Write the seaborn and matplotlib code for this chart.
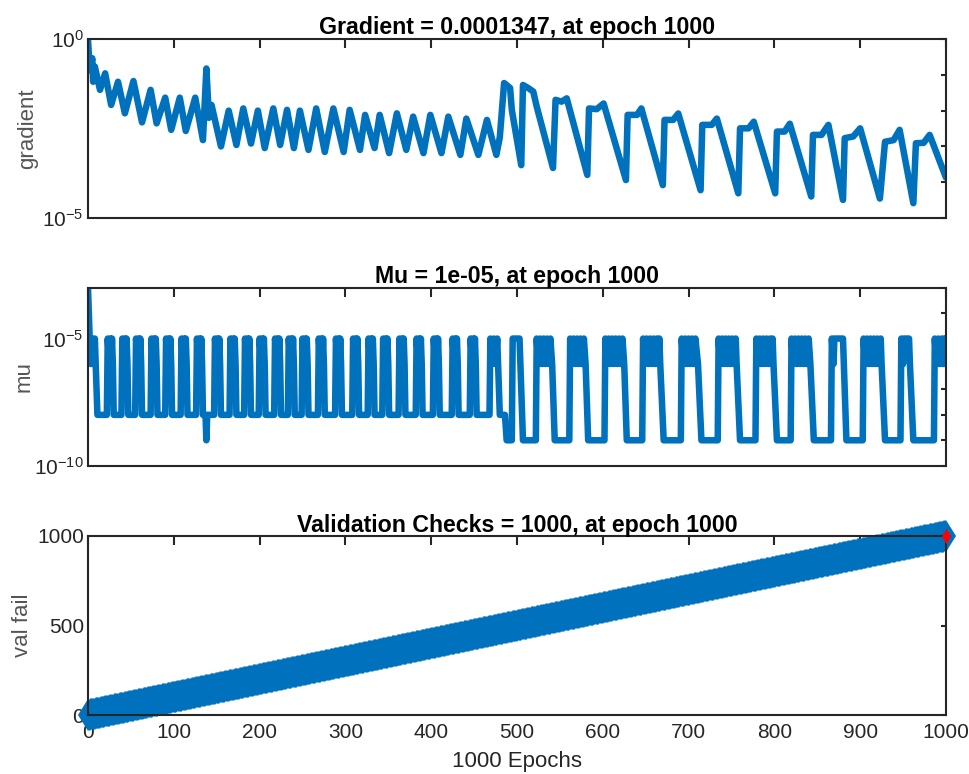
import matplotlib
matplotlib.use("Agg")
import matplotlib.pyplot as plt
import seaborn as sns
from matplotlib.ticker import FixedLocator, FixedFormatter, NullLocator

BLUE = "#0072BD"

# gradient (epoch, value at each corner of the line)
grad_epoch = [
    0, 2, 5, 6, 8, 14, 20, 27, 35, 43, 53, 63, 73, 80, 90, 97, 107, 114, 125, 134,
    138, 141, 144, 155, 164, 173, 181, 190, 198, 206, 216, 224, 232, 240, 247, 257,
    266, 276, 286, 298, 305, 317, 323, 334, 340, 351, 360, 371, 379, 391, 399, 412,
    420, 434, 441, 455, 465, 476, 480, 485, 492, 494, 505, 507, 513, 519, 523, 542,
    545, 552, 558, 582, 584, 593, 601, 627, 629, 640, 645, 670, 672, 682, 688, 714,
    716, 727, 733, 758, 760, 770, 776, 801, 803, 812, 818, 843, 845, 855, 863, 880,
    882, 892, 900, 923, 929, 939, 946, 962, 965, 974, 981, 1000,
]
grad_value = [
    1.0, 0.135, 0.29, 0.064, 0.17, 0.038, 0.11, 0.0144, 0.064, 0.0084, 0.067, 0.0047,
    0.038, 0.0044, 0.023, 0.0029, 0.023, 0.0027, 0.023, 0.0015,
    0.15, 0.0063, 0.0144, 0.001, 0.01, 0.0011, 0.0115, 0.0012, 0.01, 0.0009, 0.0115,
    0.0011, 0.0105, 0.0009, 0.01, 0.0008,
    0.0115, 0.0007, 0.0115, 0.0007, 0.0105, 0.0008, 0.0076, 0.0009, 0.0076, 0.00065,
    0.0084, 0.0008, 0.0068, 0.00065, 0.0076, 0.00065,
    0.0068, 0.00058, 0.006, 0.00058, 0.0055, 0.00058, 0.0018, 0.059, 0.043, 0.0105,
    0.0003, 0.052, 0.043, 0.034, 0.013, 0.00025,
    0.02, 0.0178, 0.022, 0.00016, 0.0115, 0.011, 0.0158, 0.000115, 0.0076, 0.0076,
    0.0115, 8.3e-5, 0.0055, 0.0055, 0.0083, 6.0e-5,
    0.004, 0.004, 0.006, 4.9e-5, 0.0032, 0.0032, 0.0049, 4.9e-5, 0.0026, 0.0026,
    0.0043, 4.0e-5, 0.0021, 0.0021, 0.004, 3.2e-5,
    0.0017, 0.0019, 0.0032, 3.5e-5, 0.00135, 0.0015, 0.0029, 2.6e-5, 0.00123, 0.00126,
    0.0021, 0.0001347,
]

# mu, as powers of ten at each corner of the line
mu_epoch = [
    0, 2, 3, 5, 6, 8, 9, 11,
    22, 23, 25, 26, 27, 28, 29, 30,
    39, 40, 42, 43, 44, 45, 46, 47,
    55, 56, 58, 59, 60, 61, 62, 63,
    73, 74, 76, 77, 78, 79, 80, 81,
    90, 91, 93, 94, 95, 96, 97, 98,
    108, 109, 111, 112, 113, 114, 115, 116,
    126, 127, 129, 130, 131, 132, 133, 134,
    137, 138, 139,
    147, 148, 150, 151, 152, 153, 154, 155,
    165, 166, 168, 169, 170, 171, 172, 173,
    182, 183, 185, 186, 187, 188, 189, 190,
    199, 200, 202, 203, 204, 205, 206, 207,
    217, 218, 220, 221, 222, 223, 224, 225,
    233, 234, 236, 237, 238, 239, 240, 241,
    249, 250, 252, 253, 254, 255, 256, 257,
    268, 269, 271, 272, 273, 274, 275, 276,
    288, 289, 291, 292, 293, 294, 295, 296,
    308, 309, 311, 312, 313, 314, 315, 316,
    326, 327, 329, 330, 331, 332, 333, 334,
    343, 344, 346, 347, 348, 349, 350, 351,
    362, 363, 365, 366, 367, 368, 369, 370,
    382, 383, 385, 386, 387, 388, 389, 390,
    402, 403, 405, 406, 407, 408, 409, 410,
    424, 425, 427, 428, 429, 430, 431, 432,
    445, 446, 448, 449, 450, 451, 452, 453,
    468, 469, 471, 473, 475, 477, 478, 480,
    486, 488, 494,
    495, 503, 504, 507,
    522, 523, 525, 527, 529, 531, 533, 535, 537, 539, 541, 544,
    561, 562, 564, 566, 568, 570, 572, 574, 576, 578, 580, 583,
    602, 603, 605, 607, 609, 611, 613, 615, 617, 619, 621, 623, 625, 628,
    646, 647, 649, 651, 653, 655, 657, 659, 661, 663, 665, 666, 667, 671,
    691, 692, 694, 696, 698, 700, 702, 704, 706, 708, 711, 715,
    734, 735, 737, 739, 741, 743, 745, 747, 749, 751, 753, 755, 756, 760,
    778, 779, 781, 783, 785, 787, 789, 791, 793, 795, 797, 798, 799, 803,
    819, 820, 822, 824, 826, 828, 830, 832, 834, 836, 838, 840, 842, 846,
    866, 867, 869, 870, 880, 881, 884,
    903, 904, 906, 908, 910, 912, 914, 916, 918, 920, 922, 924, 925, 929,
    947, 948, 950, 951, 957, 958, 962,
    986, 987, 989, 991, 993, 995, 997, 998, 999, 1000,
]
mu_exp = [
    -3, -5, -6, -5, -6, -5, -6, -8,
    -8, -5, -6, -5, -6, -5, -6, -8,
    -8, -5, -6, -5, -6, -5, -6, -8,
    -8, -5, -6, -5, -6, -5, -6, -8,
    -8, -5, -6, -5, -6, -5, -6, -8,
    -8, -5, -6, -5, -6, -5, -6, -8,
    -8, -5, -6, -5, -6, -5, -6, -8,
    -8, -5, -6, -5, -6, -5, -6, -8,
    -8, -9, -8,
    -8, -5, -6, -5, -6, -5, -6, -8,
    -8, -5, -6, -5, -6, -5, -6, -8,
    -8, -5, -6, -5, -6, -5, -6, -8,
    -8, -5, -6, -5, -6, -5, -6, -8,
    -8, -5, -6, -5, -6, -5, -6, -8,
    -8, -5, -6, -5, -6, -5, -6, -8,
    -8, -5, -6, -5, -6, -5, -6, -8,
    -8, -5, -6, -5, -6, -5, -6, -8,
    -8, -5, -6, -5, -6, -5, -6, -8,
    -8, -5, -6, -5, -6, -5, -6, -8,
    -8, -5, -6, -5, -6, -5, -6, -8,
    -8, -5, -6, -5, -6, -5, -6, -8,
    -8, -5, -6, -5, -6, -5, -6, -8,
    -8, -5, -6, -5, -6, -5, -6, -8,
    -8, -5, -6, -5, -6, -5, -6, -8,
    -8, -5, -6, -5, -6, -5, -6, -8,
    -8, -5, -6, -5, -6, -5, -6, -8,
    -8, -5, -6, -5, -6, -5, -6, -8,
    -8, -9, -9,
    -5, -5, -6, -9,
    -9, -5, -6, -5, -6, -5, -6, -5, -6, -5, -6, -9,
    -9, -5, -6, -5, -6, -5, -6, -5, -6, -5, -6, -9,
    -9, -5, -6, -5, -6, -5, -6, -5, -6, -5, -6, -5, -6, -9,
    -9, -5, -6, -5, -6, -5, -6, -5, -6, -5, -6, -5, -6, -9,
    -9, -5, -6, -5, -6, -5, -6, -5, -6, -5, -6, -9,
    -9, -5, -6, -5, -6, -5, -6, -5, -6, -5, -6, -5, -6, -9,
    -9, -5, -6, -5, -6, -5, -6, -5, -6, -5, -6, -5, -6, -9,
    -9, -5, -6, -5, -6, -5, -6, -5, -6, -5, -6, -5, -6, -9,
    -9, -5, -6, -5, -5, -6, -9,
    -9, -5, -6, -5, -6, -5, -6, -5, -6, -5, -6, -5, -6, -9,
    -9, -5, -6, -5, -5, -6, -9,
    -9, -5, -6, -5, -6, -5, -6, -5, -6, -5,
]
assert len(grad_epoch) == len(grad_value)
assert len(mu_epoch) == len(mu_exp)
mu_value = [10.0 ** e for e in mu_exp]

# validation checks: one more failed check at every epoch, 0 .. 1000
val_epoch = list(range(0, 1001))
val_fail = list(range(0, 1001))
last_epoch = [1000]
last_fail = [1000]

titles = [
    "Gradient = 0.0001347, at epoch 1000",
    "Mu = 1e-05, at epoch 1000",
    "Validation Checks = 1000, at epoch 1000",
]
x_ticks = list(range(0, 1001, 100))
grad_ticks = [1e-5, 1e-4, 1e-3, 1e-2, 1e-1, 1e0]
grad_labels = ["$10^{-5}$", "", "", "", "", "$10^{0}$"]
mu_ticks = [1e-10, 1e-9, 1e-8, 1e-7, 1e-6, 1e-5, 1e-4, 1e-3]
mu_labels = ["$10^{-10}$", "", "", "", "", "$10^{-5}$", "", ""]
val_ticks = [0, 500, 1000]

sns.set_style("white")
plt.rcParams["font.family"] = ["Liberation Sans", "DejaVu Sans"]
plt.rcParams["mathtext.fontset"] = "custom"
plt.rcParams["mathtext.rm"] = "Liberation Sans"
plt.rcParams["mathtext.default"] = "regular"

fig = plt.figure(figsize=(9.7, 7.74), dpi=100)
ax1 = fig.add_axes([0.0907, 0.7183, 0.8845, 0.2313])
ax2 = fig.add_axes([0.0907, 0.3983, 0.8845, 0.2300])
ax3 = fig.add_axes([0.0907, 0.0762, 0.8845, 0.2313])

sns.lineplot(x=grad_epoch, y=grad_value, ax=ax1, color=BLUE, linewidth=4.7,
             estimator=None, sort=False, solid_joinstyle="round")
sns.lineplot(x=mu_epoch, y=mu_value, ax=ax2, color=BLUE, linewidth=4.7,
             estimator=None, sort=False, solid_joinstyle="round")
sns.lineplot(x=val_epoch, y=val_fail, ax=ax3, color=BLUE, linewidth=3,
             estimator=None, sort=False, marker="d", markersize=16.5,
             markeredgewidth=0, clip_on=False)
sns.scatterplot(x=last_epoch, y=last_fail, ax=ax3, color="red", marker="d",
                s=60, linewidth=0, zorder=5, clip_on=False)

ax1.set_yscale("log")
ax1.set_ylim(1e-5, 1e0)
ax1.yaxis.set_major_locator(FixedLocator(grad_ticks))
ax1.yaxis.set_major_formatter(FixedFormatter(grad_labels))
ax1.set_ylabel("gradient")

ax2.set_yscale("log")
ax2.set_ylim(1e-10, 1e-3)
ax2.yaxis.set_major_locator(FixedLocator(mu_ticks))
ax2.yaxis.set_major_formatter(FixedFormatter(mu_labels))
ax2.set_ylabel("mu")

ax3.set_ylim(0, 1000)
ax3.yaxis.set_major_locator(FixedLocator(val_ticks))
ax3.set_ylabel("val fail")
ax3.set_xlabel("1000 Epochs", fontsize=16, color="#262626", labelpad=6)

label_x = [-0.0583, -0.0622, -0.0646]
for ax, title, lx in zip([ax1, ax2, ax3], titles, label_x):
    ax.set_xlim(0, 1000)
    ax.xaxis.set_major_locator(FixedLocator(x_ticks))
    ax.yaxis.set_minor_locator(NullLocator())
    ax.xaxis.set_minor_locator(NullLocator())
    ax.set_title(title, fontsize=16.7, fontweight="bold", color="black", pad=3)
    ax.yaxis.label.set_fontsize(16)
    ax.yaxis.label.set_color("#555555")
    ax.yaxis.set_label_coords(lx, 0.5)
    ax.tick_params(axis="both", direction="in", top=True, right=True,
                   width=1.5, color="#262626", labelcolor="#262626",
                   labelsize=15, pad=3)
    ax.tick_params(axis="x", length=6.5, pad=6)
    ax.tick_params(axis="y", length=3.3)
    for spine in ax.spines.values():
        spine.set_linewidth(1.5)
        spine.set_color("#262626")

ax1.tick_params(axis="x", labelbottom=False)
ax2.tick_params(axis="x", labelbottom=False)

fig.savefig("out.png", dpi=100)
